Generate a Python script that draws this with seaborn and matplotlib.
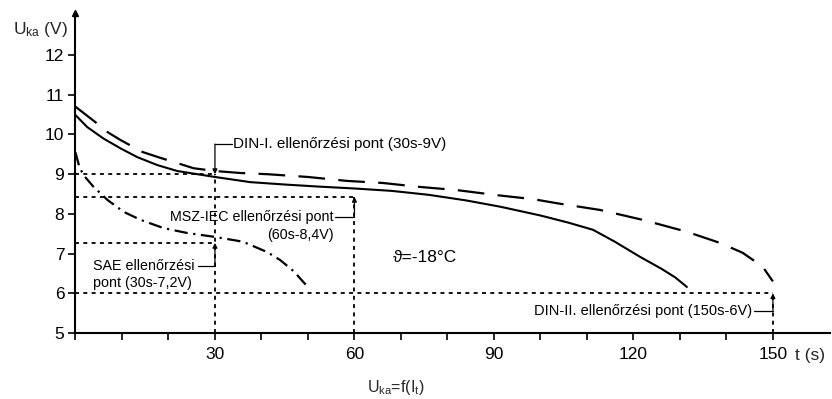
import numpy as np
import pandas as pd
import matplotlib
matplotlib.use("Agg")
import matplotlib.pyplot as plt
import seaborn as sns

# curves (t in s, U in V)
solid_t = [0, 2.5, 6, 9.7, 13.3, 17.6, 21.9, 30, 37.6, 45, 52, 60, 68, 76, 84, 91.4, 100, 106, 111.3, 116, 121.4, 126, 129, 131.5]
solid_u = [10.49, 10.19, 9.9, 9.65, 9.43, 9.23, 9.08, 8.93, 8.8, 8.74, 8.69, 8.64, 8.58, 8.48, 8.34, 8.18, 7.96, 7.78, 7.6, 7.3, 6.92, 6.62, 6.4, 6.16]

dashed_t = [0, 4.3, 6.9, 9.7, 14.4, 18.3, 21.9, 25.4, 30, 35.5, 41.3, 50, 58.5, 66, 74, 82, 90.8, 98.5, 104, 112.8, 122, 131.5, 138.6, 143.5, 147.8, 150]
dashed_u = [10.7, 10.31, 10.06, 9.86, 9.56, 9.41, 9.28, 9.15, 9.08, 9.03, 9.0, 8.93, 8.83, 8.78, 8.68, 8.6, 8.47, 8.37, 8.26, 8.1, 7.85, 7.55, 7.27, 7.02, 6.67, 6.3]

dashdot_t = [0, 0.8, 1.7, 3.9, 6.9, 10.4, 14, 19, 24, 30, 36, 41.2, 44, 47, 49.5]
dashdot_u = [9.55, 9.2, 8.98, 8.68, 8.35, 8.05, 7.85, 7.64, 7.52, 7.42, 7.3, 7.04, 6.84, 6.55, 6.22]

# check points (t, U) as drawn
din1 = (30, 9.0)
msz = (60, 8.43)
sae = (30, 7.27)
din2 = (150, 6.0)

x_ticks = list(range(0, 151, 10))
x_labels = ["30", "60", "90", "120", "150"]
y_ticks = [5, 6, 7, 8, 9, 10, 11, 12]

sns.set_theme(style="white")
plt.rcParams["font.family"] = ["Liberation Sans", "DejaVu Sans"]
plt.rcParams["mathtext.default"] = "regular"

fig = plt.figure(figsize=(8.32, 3.99), dpi=100)
ax = fig.add_axes([0.0907, 0.1654, 0.907, 0.802])

df_solid = pd.DataFrame({"t": solid_t, "U": solid_u})
df_dash = pd.DataFrame({"t": dashed_t, "U": dashed_u})
df_dd = pd.DataFrame({"t": dashdot_t, "U": dashdot_u})

sns.lineplot(data=df_solid, x="t", y="U", ax=ax, color="black", lw=1.5, sort=False, estimator=None)
sns.lineplot(data=df_dash, x="t", y="U", ax=ax, color="black", lw=1.6, sort=False, estimator=None,
             linestyle=(0, (12, 6)))
sns.lineplot(data=df_dd, x="t", y="U", ax=ax, color="black", lw=1.6, sort=False, estimator=None,
             linestyle=(0, (6, 2.5, 1, 2.5)))

# dotted guide lines
dots = dict(color="black", lw=1.3, linestyle=(0, (2.2, 2.4)))
for (t, u) in [din1, msz, sae, din2]:
    ax.plot([0, t], [u, u], **dots)
ax.plot([din1[0], din1[0]], [5, din1[1]], **dots)
ax.plot([msz[0], msz[0]], [5, msz[1]], **dots)
ax.plot([din2[0], din2[0]], [5, din2[1]], **dots)

arr = dict(arrowstyle="-|>", color="black", lw=0.9, shrinkA=0, shrinkB=0, mutation_scale=7)

# DIN-I
ax.plot([din1[0], 33.7], [9.76, 9.76], color="black", lw=0.9)
ax.annotate("", xy=din1, xytext=(din1[0], 9.76), arrowprops=arr)
ax.text(33.9, 9.76, "DIN-I. ellenőrzési pont (30s-9V)", ha="left", va="center",
        color="black", fontsize=11)

# MSZ-IEC
ax.plot([55.8, msz[0]], [7.92, 7.92], color="black", lw=0.9)
ax.annotate("", xy=msz, xytext=(msz[0], 7.92), arrowprops=arr)
ax.text(55.5, 7.92, "MSZ-IEC ellenőrzési pont", ha="right", va="center", color="black", fontsize=10.3)
ax.text(55.5, 7.47, "(60s-8,4V)", ha="right", va="center", color="black", fontsize=10.3)

# SAE
ax.plot([26.3, sae[0]], [6.69, 6.69], color="black", lw=0.9)
ax.annotate("", xy=sae, xytext=(sae[0], 6.69), arrowprops=arr)
ax.text(3.8, 6.69, "SAE ellenőrzési", ha="left", va="center", color="black", fontsize=10.3)
ax.text(3.8, 6.26, "pont (30s-7,2V)", ha="left", va="center", color="black", fontsize=10.3)

# DIN-II
ax.plot([145.9, din2[0]], [5.55, 5.55], color="black", lw=0.9)
ax.annotate("", xy=din2, xytext=(din2[0], 5.55), arrowprops=arr)
ax.text(145.6, 5.55, "DIN-II. ellenőrzési pont (150s-6V)", ha="right", va="center",
        color="black", fontsize=10.5)

ax.text(68.3, 6.91, "ϑ=-18°C", ha="left", va="center", fontsize=12.5, color="black")

ax.set_xlim(0, 162.3)
ax.set_ylim(5, 13.06)
ax.set_xticks(x_ticks)
ax.set_xticklabels(["" if str(v) not in x_labels else str(v) for v in x_ticks])
ax.set_yticks(y_ticks)
ax.tick_params(axis="x", direction="out", length=5, width=1.2, pad=5, labelsize=12.5, colors="black", bottom=True)
ax.tick_params(axis="y", direction="out", length=5, width=1.2, pad=3, labelsize=12.5, colors="black", left=True)
ax.set_xlabel("")
ax.set_ylabel("")

for side in ["top", "right"]:
    ax.spines[side].set_visible(False)
for side in ["left", "bottom"]:
    ax.spines[side].set_color("black")
    ax.spines[side].set_linewidth(1.5)

ax.plot(1, 0, ">", color="black", ms=5, transform=ax.get_yaxis_transform(), clip_on=False)
ax.plot(0, 1, "^", color="black", ms=5, transform=ax.get_xaxis_transform(), clip_on=False)

fig.text(0.0156, 0.925, "U$_{ka}$ (V)", ha="left", va="center", fontsize=12.5)
fig.text(0.9555, 0.110, "t (s)", ha="left", va="center", fontsize=12.5)
fig.text(0.476, 0.028, "U$_{ka}$=f(I$_{t}$)", ha="center", va="center", fontsize=11.5)

fig.savefig("out.png", dpi=100, facecolor="white")
